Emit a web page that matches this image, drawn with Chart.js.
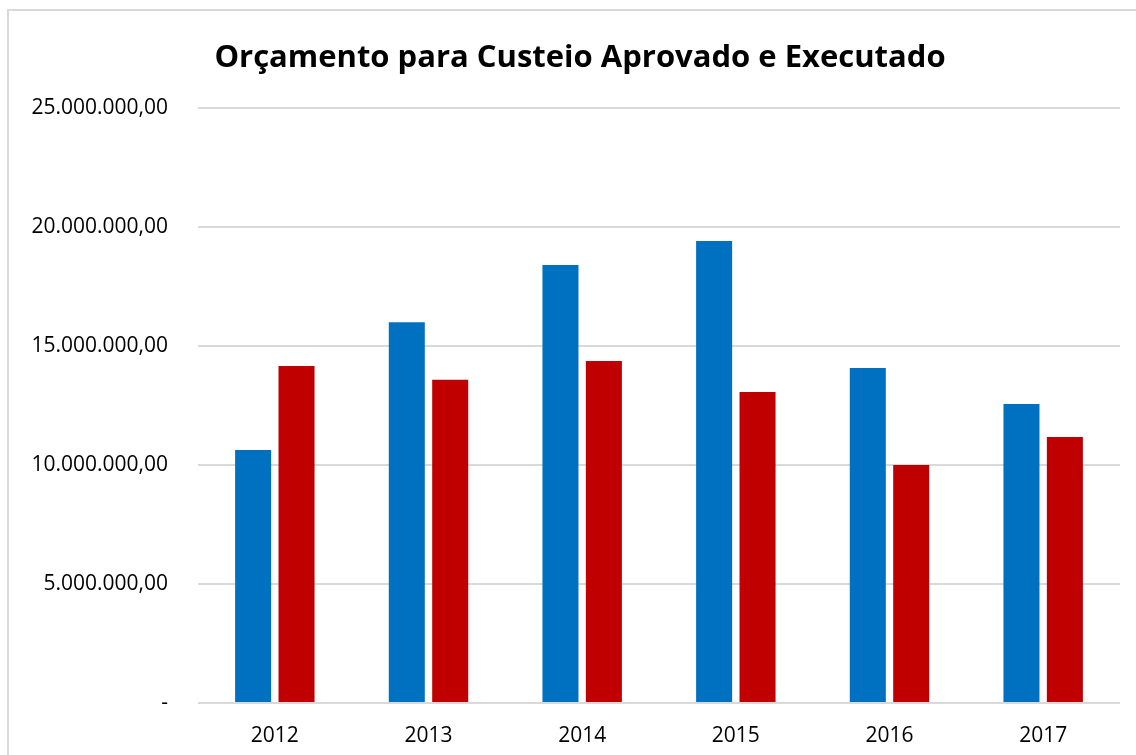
<!DOCTYPE html>
<html>
<head>
	<meta charset="utf-8">
	<title>Orçamento para Custeio Aprovado e Executado</title>
	<script src="https://cdn.jsdelivr.net/npm/chart.js"></script>
	<style>
		body { margin: 0; background: #fff; overflow: hidden; }
		#frame { position: absolute; left: 7px; top: 9px; width: 1300px; height: 900px; border: 2px solid #d9d9d9; }
		#chart { position: absolute; left: 0; top: 0; }
		#title { position: absolute; left: 0; top: 34px; width: 1160px; line-height: 40px; text-align: center;
			font: bold 31px 'Open Sans'; color: #000; }
	</style>
</head>
<body>
	<div id="frame"></div>
	<canvas id="chart" width="1136" height="755"></canvas>
	<div id="title">Orçamento para Custeio Aprovado e Executado</div>
	<script>
		var years = ['2012', '2013', '2014', '2015', '2016', '2017'];
		var aprovado = [10630000, 16000000, 18400000, 19410000, 14080000, 12560000];
		var executado = [14160000, 13580000, 14370000, 13070000, 10000000, 11180000];
		var yTickLabels = ['-', '5.000.000,00', '10.000.000,00', '15.000.000,00', '20.000.000,00', '25.000.000,00'];

		var ctx = document.getElementById('chart').getContext('2d');
		var chart = new Chart(ctx, {
			type: 'bar',
			data: {
				labels: years,
				datasets: [{
					label: 'Aprovado',
					data: aprovado,
					backgroundColor: '#0070c0'
				}, {
					label: 'Executado',
					data: executado,
					backgroundColor: '#c00000'
				}]
			},
			options: {
				responsive: false,
				animation: false,
				barPercentage: 0.83,
				categoryPercentage: 0.565,
				layout: { padding: { left: 0, right: 16, top: 108, bottom: 0 } },
				plugins: {
					legend: { display: false },
					tooltip: { enabled: false },
					title: { display: false }
				},
				scales: {
					x: {
						grid: { display: false },
						border: { display: false },
						ticks: { color: '#000', padding: 12, font: { family: 'Open Sans', size: 21 } },
						afterFit: function(scale) { scale.height = 52; }
					},
					y: {
						min: 0,
						max: 25000000,
						grid: { color: '#d9d9d9', lineWidth: 2, drawTicks: false },
						border: { display: false },
						ticks: {
							stepSize: 5000000,
							color: '#000',
							padding: 30,
							font: { family: 'Open Sans', size: 21 },
							callback: function(value, index) { return yTickLabels[index]; }
						},
						afterFit: function(scale) { scale.width = 198; }
					}
				}
			}
		});
	</script>
</body>
</html>
